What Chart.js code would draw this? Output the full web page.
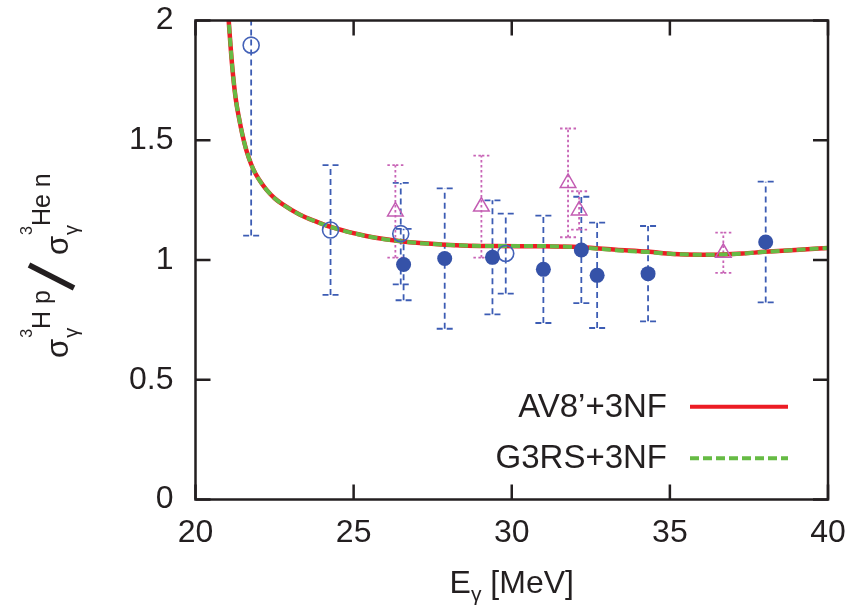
<!DOCTYPE html>
<html>
<head>
<meta charset="utf-8">
<script src="https://cdn.jsdelivr.net/npm/chart.js@4.4.1/dist/chart.umd.min.js"></script>
<style>
html, body { margin: 0; padding: 0; background: #fff; }
canvas { display: block; }
</style>
</head>
<body>
<canvas id="ratioChart" width="866" height="607"></canvas>
<script>
// axis ticks
const xTicks = [20, 25, 30, 35, 40];
const yTicks = [0, 0.5, 1, 1.5, 2];

// theory curves, ratio vs photon energy (MeV)
const curveE    = [20.95, 21.05, 21.16, 21.27, 21.38, 21.48, 21.6, 21.76, 21.9, 22.1, 22.24, 22.5, 22.76, 23.29, 23.82, 24.27, 25.4, 26.49, 27.88, 29.4, 31.0, 32.2, 33.3, 34.3, 35.1, 35.95, 36.7, 37.3, 38.0, 39.1, 40.0];
const av8Ratio  = [2.2, 2.0, 1.81, 1.675, 1.59, 1.525, 1.462, 1.4, 1.36, 1.318, 1.294, 1.258, 1.232, 1.19, 1.16, 1.138, 1.1, 1.078, 1.064, 1.058, 1.057, 1.053, 1.043, 1.035, 1.025, 1.022, 1.023, 1.027, 1.034, 1.043, 1.05];
const g3rsRatio = [2.2, 2.0, 1.81, 1.675, 1.59, 1.525, 1.462, 1.4, 1.36, 1.318, 1.294, 1.258, 1.232, 1.19, 1.16, 1.138, 1.1, 1.078, 1.064, 1.058, 1.058, 1.052, 1.041, 1.033, 1.025, 1.022, 1.023, 1.027, 1.034, 1.043, 1.05];

// measurements
const openE      = [21.76, 24.27, 26.49, 29.81];
const openRatio  = [1.897, 1.125, 1.11, 1.027];
const openErr    = [0.795, 0.271, 0.212, 0.167];

const filledE     = [26.58, 27.88, 29.39, 31.0, 32.2, 32.7, 34.31, 38.03];
const filledRatio = [0.981, 1.006, 1.011, 0.961, 1.042, 0.936, 0.943, 1.075];
const filledErr   = [0.149, 0.293, 0.238, 0.224, 0.222, 0.22, 0.199, 0.252];

const triE     = [26.32, 29.04, 31.78, 32.13, 36.69];
const triRatio = [1.203, 1.223, 1.322, 1.207, 1.03];
const triErr   = [0.193, 0.213, 0.227, 0.08, 0.084];

const FONT = "'Liberation Sans', Arial, Helvetica, sans-serif";
const INK = '#231f20';

function pts(xs, ys) {
    return xs.map((v, i) => ({ x: v, y: ys[i] }));
}

// vertical error bars with small caps, clipped to the plot area
const errorBars = {
    id: 'errorBars',
    beforeDatasetsDraw(chart) {
        const { ctx, chartArea, scales: { x, y } } = chart;
        ctx.save();
        ctx.beginPath();
        ctx.rect(chartArea.left, chartArea.top, chartArea.right - chartArea.left, chartArea.bottom - chartArea.top);
        ctx.clip();
        chart.data.datasets.forEach(ds => {
            if (!ds.errors) return;
            ctx.strokeStyle = ds.errorColor;
            ctx.lineWidth = 1.8;
            ds.data.forEach((p, i) => {
                const px = x.getPixelForValue(p.x);
                const top = y.getPixelForValue(p.y + ds.errors[i]);
                const bot = y.getPixelForValue(p.y - ds.errors[i]);
                ctx.setLineDash(ds.errorDash);
                ctx.beginPath();
                ctx.moveTo(px, bot);
                ctx.lineTo(px, top);
                ctx.stroke();
                [top, bot].forEach(cy => {
                    ctx.beginPath();
                    ctx.moveTo(px - 8, cy); ctx.lineTo(px, cy);
                    ctx.moveTo(px + 8, cy); ctx.lineTo(px, cy);
                    ctx.stroke();
                });
            });
        });
        ctx.restore();
    }
};

// gnuplot style box with inward ticks on all sides
const frame = {
    id: 'frame',
    afterDatasetsDraw(chart) {
        const { ctx, chartArea: a, scales: { x, y } } = chart;
        const len = 15;
        ctx.save();
        ctx.strokeStyle = INK;
        ctx.lineWidth = 2.5;
        ctx.setLineDash([]);
        ctx.beginPath();
        xTicks.forEach(v => {
            const px = x.getPixelForValue(v);
            ctx.moveTo(px, a.bottom); ctx.lineTo(px, a.bottom - len);
            ctx.moveTo(px, a.top); ctx.lineTo(px, a.top + len);
        });
        yTicks.forEach(v => {
            const py = y.getPixelForValue(v);
            ctx.moveTo(a.left, py); ctx.lineTo(a.left + len, py);
            ctx.moveTo(a.right, py); ctx.lineTo(a.right - len, py);
        });
        ctx.stroke();
        ctx.strokeRect(a.left, a.top, a.right - a.left, a.bottom - a.top);
        ctx.restore();
    }
};

// axis titles and the key
const labels = {
    id: 'labels',
    afterDraw(chart) {
        const { ctx, chartArea: a } = chart;
        ctx.save();
        ctx.fillStyle = INK;
        ctx.textBaseline = 'alphabetic';
        ctx.textAlign = 'left';

        // x title: E_gamma [MeV]
        const big = '32px ' + FONT, sub = '21px ' + FONT;
        ctx.font = big; const wE = ctx.measureText('E').width;
        const wRest = ctx.measureText(' [MeV]').width;
        ctx.font = sub; const wG = ctx.measureText('γ').width;
        let xs = (a.left + a.right) / 2 - (wE + wG + wRest) / 2;
        ctx.font = big; ctx.fillText('E', xs, 593); xs += wE;
        ctx.font = sub; ctx.fillText('γ', xs, 601); xs += wG;
        ctx.font = big; ctx.fillText(' [MeV]', xs, 593);

        // y title: sigma^{3H p} / sigma^{3He n}, rotated
        ctx.save();
        ctx.rotate(-Math.PI / 2);
        let u = -358;
        const sigmaPart = (sup) => {
            ctx.font = '31px ' + FONT;
            ctx.fillText('σ', u, 68);
            u += ctx.measureText('σ').width + 1;
            ctx.font = '20px ' + FONT;
            ctx.fillText('γ', u, 78);
            const subEnd = u + ctx.measureText('γ').width;
            ctx.font = '16px ' + FONT;
            ctx.fillText('3', u, 31.5);
            let s = u + ctx.measureText('3').width;
            ctx.font = '25px ' + FONT;
            ctx.fillText(sup, s, 50);
            s += ctx.measureText(sup).width;
            u = Math.max(subEnd, s);
        };
        sigmaPart('H p');
        u += 2;
        ctx.strokeStyle = INK;
        ctx.lineWidth = 5.5;
        ctx.beginPath();
        ctx.moveTo(u, 74);
        ctx.lineTo(u + 23, 29);
        ctx.stroke();
        u += 33;
        sigmaPart('He n');
        ctx.restore();

        // key, bottom right inside the frame
        const keyed = chart.data.datasets.filter(d => d.keyRow !== undefined);
        keyed.forEach(d => {
            const base = 416.7 + d.keyRow * 51.6;
            ctx.font = '33px ' + FONT;
            ctx.textAlign = 'right';
            ctx.fillStyle = INK;
            ctx.fillText(d.label, a.right - 161, base);
            ctx.strokeStyle = d.borderColor;
            ctx.lineWidth = d.keyWidth;
            ctx.setLineDash(d.borderDash || []);
            ctx.beginPath();
            ctx.moveTo(a.right - 138, base - 10);
            ctx.lineTo(a.right - 40, base - 10);
            ctx.stroke();
        });
        ctx.restore();
    }
};

const tickFont = { family: FONT, size: 32 };

new Chart(document.getElementById('ratioChart'), {
    type: 'scatter',
    data: {
        datasets: [
            {
                label: 'filled',
                data: pts(filledE, filledRatio),
                errors: filledErr,
                errorColor: '#3c5cb4',
                errorDash: [6, 4],
                pointStyle: 'circle',
                pointRadius: 7.5,
                backgroundColor: '#3552a8',
                borderColor: '#3552a8',
                borderWidth: 0
            },
            {
                label: 'open',
                data: pts(openE, openRatio),
                errors: openErr,
                errorColor: '#3c5cb4',
                errorDash: [6, 4],
                pointStyle: 'circle',
                pointRadius: 8,
                backgroundColor: 'rgba(0,0,0,0)',
                borderColor: '#4462b8',
                borderWidth: 1.6
            },
            {
                label: 'triangles',
                data: pts(triE, triRatio),
                errors: triErr,
                errorColor: '#c864b6',
                errorDash: [2.5, 2.5],
                pointStyle: 'triangle',
                pointRadius: 9,
                backgroundColor: 'rgba(0,0,0,0)',
                borderColor: '#c35db3',
                borderWidth: 1.5
            },
            {
                label: 'G3RS+3NF',
                keyRow: 1,
                keyWidth: 4,
                data: pts(curveE, g3rsRatio),
                showLine: true,
                cubicInterpolationMode: 'monotone',
                pointRadius: 0,
                borderColor: '#66bb44',
                borderWidth: 4,
                borderDash: [9, 4]
            },
            {
                label: 'AV8’+3NF',
                keyRow: 0,
                keyWidth: 4,
                data: pts(curveE, av8Ratio),
                showLine: true,
                cubicInterpolationMode: 'monotone',
                pointRadius: 0,
                borderColor: '#ec1c24',
                borderWidth: 4.5
            }
        ]
    },
    options: {
        responsive: false,
        animation: false,
        layout: { padding: { top: 20.5, right: 38, left: 0, bottom: 0 } },
        plugins: {
            legend: { display: false },
            tooltip: { enabled: false }
        },
        scales: {
            x: {
                type: 'linear',
                min: 20,
                max: 40,
                afterBuildTicks: s => { s.ticks = xTicks.map(v => ({ value: v })); },
                afterFit: s => { s.height = 107.5; s.paddingLeft = 0; s.paddingRight = 0; },
                grid: { display: false, drawTicks: false },
                border: { display: false },
                ticks: { font: tickFont, color: INK, padding: 14, maxRotation: 0, callback: v => String(v) }
            },
            y: {
                type: 'linear',
                min: 0,
                max: 2,
                afterBuildTicks: s => { s.ticks = yTicks.map(v => ({ value: v })); },
                afterFit: s => { s.width = 195.5; s.paddingTop = 0; s.paddingBottom = 0; },
                grid: { display: false, drawTicks: false },
                border: { display: false },
                ticks: { font: tickFont, color: INK, padding: 22, callback: v => String(v) }
            }
        }
    },
    plugins: [errorBars, frame, labels]
});
</script>
</body>
</html>
